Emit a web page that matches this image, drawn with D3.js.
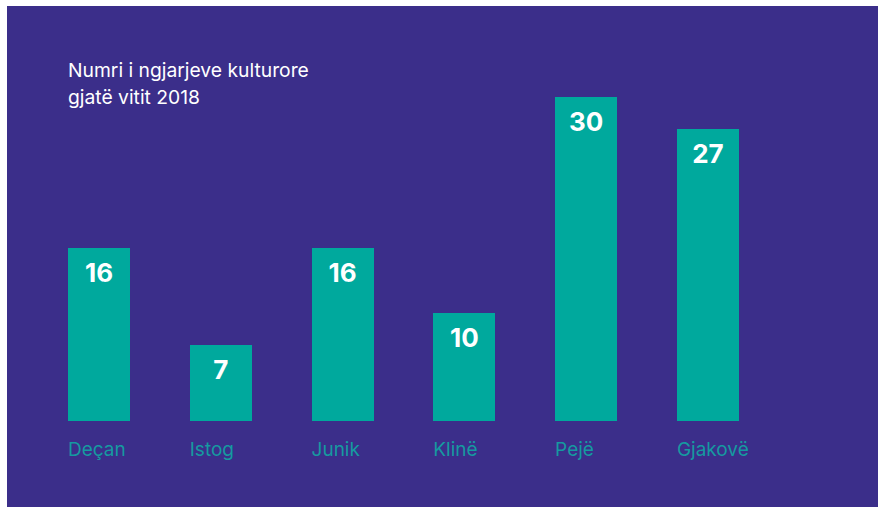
<!DOCTYPE html>
<html>
<head>
	<meta charset="utf-8">
	<style>
		body {
			margin: 0;
			background: #ffffff;
			font-family: Inter, 'Noto Sans', sans-serif;
		}
		.bar {
			fill: #00a99d;
			shape-rendering: crispEdges;
		}
		.value {
			fill: #ffffff;
			font-weight: 700;
			font-size: 26px;
			text-anchor: middle;
		}
		.cat {
			fill: #159aa0;
			font-size: 19px;
		}
		.title {
			fill: #ffffff;
			font-size: 19.3px;
		}
	</style>
	<script src="https://d3js.org/d3.v7.min.js"></script>
</head>
<body>
	<script>
		var categories = ['Deçan', 'Istog', 'Junik', 'Klinë', 'Pejë', 'Gjakovë'];
		var values = [16, 7, 16, 10, 30, 27];
		var title_lines = ['Numri i ngjarjeve kulturore', 'gjatë vitit 2018'];

		var width = 878,
			height = 508;

		var svg = d3.select('body').append('svg')
			.attr('width', width)
			.attr('height', height)
			.style('display', 'block');

		// purple panel
		svg.append('rect')
			.attr('x', 7)
			.attr('y', 6)
			.attr('width', width - 7)
			.attr('height', height - 7)
			.attr('fill', '#3b2e8a');

		var data = categories.map((c, i) => ({name: c, value: values[i]}));

		var x = d3.scaleBand()
			.domain(categories)
			.range([68, 739])
			.paddingInner(0.49)
			.paddingOuter(0);

		var y = d3.scaleLinear()
			.domain([0, 30])
			.range([421, 97]);

		var bars = svg.append('g').attr('class', 'bars');

		bars.selectAll('.bar')
			.data(data)
			.enter()
			.append('rect')
			.attr('class', 'bar')
			.attr('x', d => x(d.name))
			.attr('width', x.bandwidth())
			.attr('y', d => y(d.value))
			.attr('height', d => y(0) - y(d.value));

		bars.selectAll('.value')
			.data(data)
			.enter()
			.append('text')
			.attr('class', 'value')
			.attr('x', d => x(d.name) + x.bandwidth() / 2)
			.attr('y', d => y(d.value) + 34)
			.text(d => d.value);

		bars.selectAll('.cat')
			.data(data)
			.enter()
			.append('text')
			.attr('class', 'cat')
			.attr('x', d => x(d.name))
			.attr('y', 456)
			.text(d => d.name);

		svg.append('g')
			.selectAll('text')
			.data(title_lines)
			.enter()
			.append('text')
			.attr('class', 'title')
			.attr('x', 68)
			.attr('y', (d, i) => 77 + i * 26.5)
			.text(d => d);
	</script>
</body>
</html>
